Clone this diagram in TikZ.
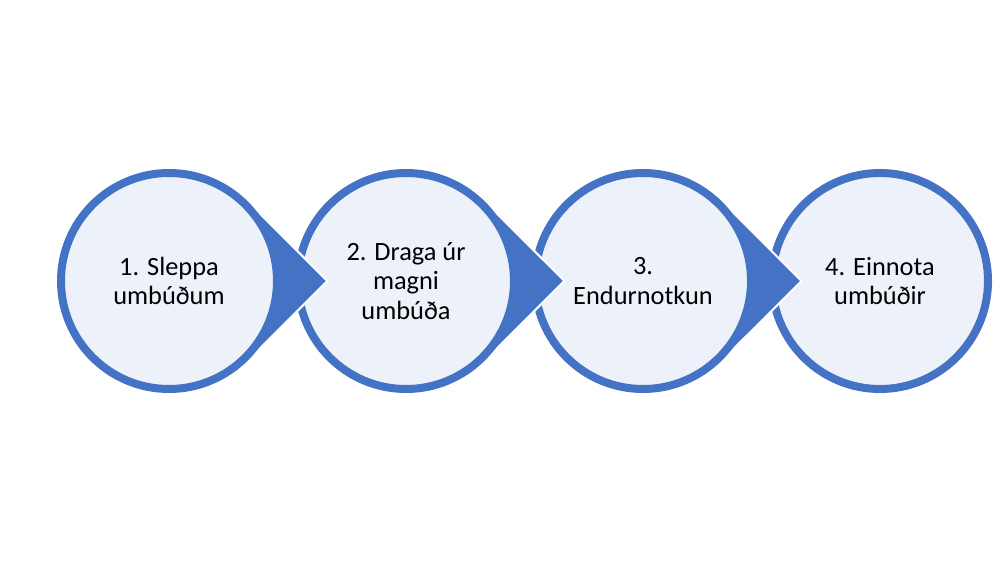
\documentclass[tikz,border=0pt]{standalone}
\usepackage{fontspec}
\setmainfont{Carlito}
\usetikzlibrary{calc}
\definecolor{stepblue}{HTML}{4472C4}
\definecolor{steplight}{HTML}{EDF1F9}
\tikzset{
	stepcircle/.style={circle, draw=stepblue, fill=steplight, line width=0.08cm, minimum size=2.16cm, inner sep=0pt, align=center, font=\fontsize{7.5}{8.4}\selectfont},
	steptip/.style={fill=stepblue, draw=white, line width=0.02cm, line join=miter}
}

\begin{document}
\begin{tikzpicture}
	\useasboundingbox (0,0) rectangle (10,5.63);
	
	%%%% centres and tips
	\coordinate (c1) at (1.69,2.82);
	\coordinate (c2) at (4.06,2.82);
	\coordinate (c3) at (6.43,2.82);
	\coordinate (c4) at (8.80,2.82);
	\coordinate (t1) at ($(c1)+(1.584,0)$);
	\coordinate (t2) at ($(c2)+(1.584,0)$);
	\coordinate (t3) at ($(c3)+(1.584,0)$);
	
	%%%% steps, last first so each tip lies on the next circle
	\node[stepcircle] (s4) at (c4) {4. Einnota\\umbúðir};
	
	\filldraw[steptip] (t3) -- ($(c3)+(45:1.12)$) arc[start angle=45, end angle=315, radius=1.12] -- cycle;
	\node[stepcircle] (s3) at (c3) {3.\\Endurnotkun};
	
	\filldraw[steptip] (t2) -- ($(c2)+(45:1.12)$) arc[start angle=45, end angle=315, radius=1.12] -- cycle;
	\node[stepcircle] (s2) at (c2) {2. Draga úr\\magni\\umbúða};
	
	\filldraw[steptip] (t1) -- ($(c1)+(45:1.12)$) arc[start angle=45, end angle=315, radius=1.12] -- cycle;
	\node[stepcircle] (s1) at (c1) {1. Sleppa\\umbúðum};
	%%%%%%
\end{tikzpicture}
\end{document}
